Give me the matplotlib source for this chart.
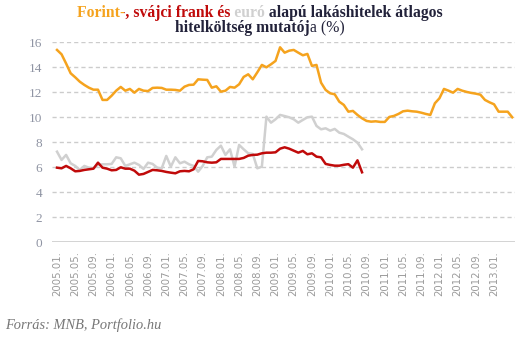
import matplotlib
matplotlib.use("Agg")
import matplotlib.pyplot as plt
from matplotlib.transforms import Bbox

# monthly data 2005.01 - 2013.05
months = [f"{2005 + k // 12}.{k % 12 + 1:02d}." for k in range(101)]

forint = [15.39, 15.04, 14.3, 13.52, 13.2, 12.85, 12.59, 12.37, 12.21, 12.21,
          11.39, 11.39, 11.73, 12.13, 12.43, 12.13, 12.27, 11.97, 12.27, 12.13,
          12.1, 12.35, 12.37, 12.35, 12.21, 12.21, 12.19, 12.13, 12.45, 12.59,
          12.61, 13.04, 13.01, 12.99, 12.37, 12.48, 12.05, 12.13, 12.43, 12.37,
          12.64, 13.23, 13.44, 13.04, 13.6, 14.19, 14.0, 14.24, 14.51, 15.6,
          15.17, 15.33, 15.39, 15.17, 14.96, 15.07, 14.11, 14.19, 12.77, 12.19,
          11.92, 11.84, 11.25, 10.99, 10.45, 10.51, 10.19, 9.92, 9.71, 9.65,
          9.68, 9.63, 9.63, 10.03, 10.11, 10.27, 10.48, 10.53, 10.48, 10.45,
          10.37, 10.27, 10.19, 11.12, 11.52, 12.27, 12.13, 11.97, 12.27, 12.13,
          12.03, 11.95, 11.89, 11.81, 11.39, 11.2, 11.04, 10.45, 10.45, 10.45,
          10.0]

svajci = [5.97, 5.92, 6.11, 5.92, 5.68, 5.71, 5.79, 5.84, 5.89, 6.37,
          5.97, 5.89, 5.76, 5.79, 6.0, 5.89, 5.89, 5.73, 5.41, 5.47,
          5.63, 5.79, 5.76, 5.71, 5.63, 5.57, 5.52, 5.68, 5.71, 5.68,
          5.84, 6.51, 6.48, 6.4, 6.37, 6.4, 6.67, 6.67, 6.67, 6.67,
          6.67, 6.75, 6.93, 6.99, 7.01, 7.12, 7.17, 7.17, 7.2, 7.49,
          7.6, 7.49, 7.33, 7.17, 7.31, 7.04, 7.12, 6.85, 6.8, 6.27,
          6.19, 6.13, 6.13, 6.2, 6.25, 5.97, 6.56, 5.6]

euro = [7.25, 6.59, 6.99, 6.32, 6.11, 5.79, 6.11, 5.97, 5.92, 6.19,
        6.24, 6.24, 6.27, 6.8, 6.72, 6.11, 6.24, 6.37, 6.19, 5.87,
        6.37, 6.27, 5.97, 5.92, 6.91, 6.05, 6.8, 6.32, 6.45, 6.24,
        6.11, 5.65, 6.11, 6.8, 6.85, 7.39, 7.73, 6.99, 7.44, 6.05,
        7.79, 7.44, 7.12, 7.07, 5.92, 6.05, 10.05, 9.57, 9.84, 10.19,
        10.1, 10.0, 9.84, 9.57, 9.79, 10.0, 10.05, 9.31, 9.04, 9.12,
        8.93, 9.07, 8.77, 8.67, 8.45, 8.24, 7.97, 7.44]

ORANGE = "#f5a31e"
RED = "#c00a0a"
GRAY = "#d0d0d0"
DARK = "#22223a"

fig = plt.figure(figsize=(5.31, 3.42), dpi=100)
ax = fig.add_axes([52 / 531, 1 - 242.3 / 342, 463 / 531, 200 / 342])

x = list(range(len(months)))
ax.plot(x[:len(euro)], euro, color=GRAY, lw=1.8, zorder=3)
ax.plot(x[:len(svajci)], svajci, color=RED, lw=1.8, zorder=4)
ax.plot(x, forint, color=ORANGE, lw=1.8, zorder=5)

ax.set_xlim(-1.1, 100.6)
ax.set_ylim(0, 16)
for v in range(2, 17, 2):
    ax.axhline(v, color="#cccccc", lw=1, ls=(0, (3, 2.2)), zorder=1)
ax.axhline(0, color="#cccccc", lw=1.2, zorder=1)
for s in ax.spines.values():
    s.set_visible(False)

ax.set_yticks(range(0, 17, 2))
ax.set_yticklabels([str(v) for v in range(0, 17, 2)], family="Liberation Serif",
                   fontsize=9.5, color="#8f94a3")
ticks = list(range(0, 97, 4))
ax.set_xticks(ticks)
ax.set_xticklabels([months[t] for t in ticks], rotation=90, family="DejaVu Sans",
                   fontsize=7.3, color="#9a9a9a")
ax.tick_params(axis="y", length=0, pad=7)
ax.tick_params(axis="x", length=0, pad=6.5)

r = fig.canvas.get_renderer()
W, H = 531, 342


def text_width(s, **kw):
    t = fig.text(0, 0, s, **kw)
    w = t.get_window_extent(r).width
    t.remove()
    return w


def offset(prefix, **kw):
    return text_width(prefix + "|", **kw) - text_width("|", **kw)


# title line 1: whole line drawn once per colour, each copy clipped to its words
parts = [("Forint-", ORANGE, -1.2),
         (", svájci frank és ", RED, -3),
         ("euró ", GRAY, -3),
         ("alapú lakáshitelek átlagos", DARK, 0)]
line1 = "".join(p[0] for p in parts)
tkw = dict(family="Liberation Serif", fontweight="bold")
size = 11 * 364 / text_width(line1, fontsize=11, **tkw)
tkw["fontsize"] = size

probe = fig.text(260 / W, 1 - 16.7 / H, line1, ha="center", va="baseline", **tkw)
left = probe.get_window_extent(r).x0
probe.remove()

bounds = [0]
prefix = ""
for s, c, adj in parts[:-1]:
    prefix += s
    bounds.append(left + offset(prefix, **tkw) + adj)
bounds.append(W)

for (s, c, adj), b0, b1 in zip(parts, bounds[:-1], bounds[1:]):
    t = fig.text(260 / W, 1 - 16.7 / H, line1, ha="center", va="baseline", color=c, **tkw)
    t.set_clip_on(True)
    t.set_clip_box(Bbox.from_extents(b0, 0, b1, H))

# title line 2: bold part + regular "a (%)"
l2a, l2b = "hitelköltség mutatój", "a (%)"
tot = offset(l2a, **tkw) + text_width(l2b, family="Liberation Serif", fontsize=size)
x2 = 260 - tot / 2
fig.text(x2 / W, 1 - 32.5 / H, l2a, color=DARK, va="baseline", **tkw)
fig.text((x2 + offset(l2a, **tkw)) / W, 1 - 32.5 / H, l2b, color=DARK, va="baseline",
         family="Liberation Serif", fontsize=size)

src = "Forrás: MNB, Portfolio.hu"
sw = text_width(src, family="Liberation Serif", style="italic", fontsize=10)
fig.text(5 / W, 1 - 329 / H, src, family="Liberation Serif", style="italic",
         fontsize=10 * 156 / sw, color="#777777", va="baseline")

fig.savefig("out.png", dpi=100)
